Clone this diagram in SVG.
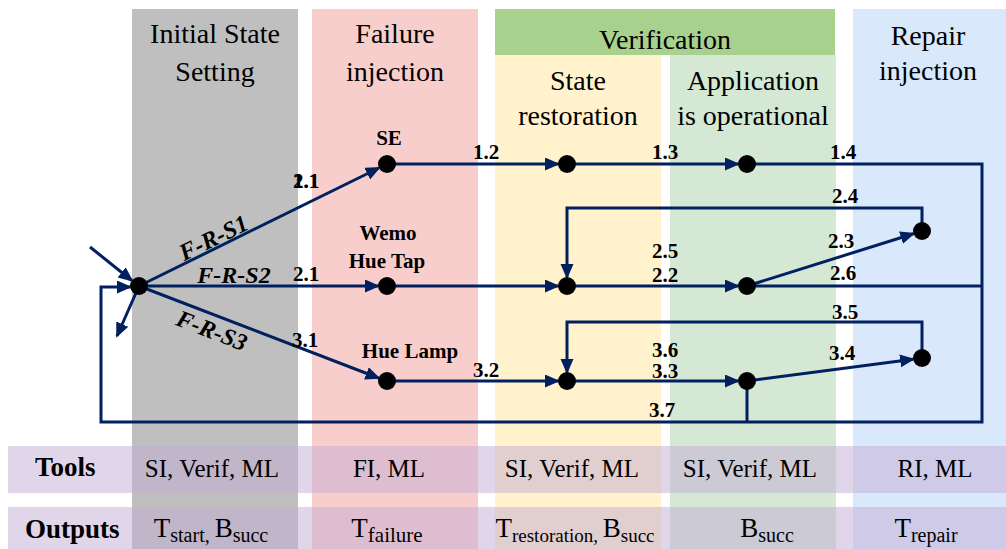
<svg xmlns="http://www.w3.org/2000/svg" width="1006" height="549" viewBox="0 0 1006 549">
<style>
.hd{font-family:"Liberation Serif","Times New Roman",serif;font-size:28px;fill:#000;text-anchor:middle}
.rw{font-family:"Liberation Serif","Times New Roman",serif;font-size:25px;fill:#000;text-anchor:middle}
.out{font-family:"Liberation Serif","Times New Roman",serif;font-size:27px;fill:#000;text-anchor:middle}
.rl{font-family:"Liberation Serif","Times New Roman",serif;font-size:27px;font-weight:bold;fill:#000}
.num{font-family:"Liberation Serif","Times New Roman",serif;font-size:21px;font-weight:bold;fill:#000}
.nl{font-family:"Liberation Serif","Times New Roman",serif;font-size:21px;font-weight:bold;fill:#000;text-anchor:middle}
.fr{font-family:"Liberation Serif","Times New Roman",serif;font-size:24px;font-weight:bold;font-style:italic;fill:#000;text-anchor:middle}
.ln{fill:none;stroke:#002060;stroke-width:3}
.nd{fill:#000}
.band{fill:rgb(195,172,212);fill-opacity:0.5}
</style>
<defs>
<marker id="ah" markerUnits="userSpaceOnUse" markerWidth="16" markerHeight="14" refX="13" refY="6.5" orient="auto">
<path d="M0,0 L15,6.5 L0,13 z" fill="#002060"/>
</marker>
</defs>
<g id="columns">
<rect x="132" y="9" width="166" height="540" fill="#BFBFBF"/>
<rect x="312" y="9" width="166" height="540" fill="#F8CECC"/>
<rect x="495" y="9" width="340" height="46" fill="#A9D18E"/>
<rect x="495" y="55" width="166" height="494" fill="#FFF2CC"/>
<rect x="670" y="55" width="166" height="494" fill="#D5E8D4"/>
<rect x="853" y="9" width="153" height="540" fill="#DAE8FC"/>
</g>
<g id="headers">
<text class="hd" x="215" y="43">Initial State</text>
<text class="hd" x="215" y="81">Setting</text>
<text class="hd" x="395" y="43">Failure</text>
<text class="hd" x="395" y="81">injection</text>
<text class="hd" x="665" y="49">Verification</text>
<text class="hd" x="578" y="90">State</text>
<text class="hd" x="578" y="125">restoration</text>
<text class="hd" x="753" y="90">Application</text>
<text class="hd" x="753" y="125">is operational</text>
<text class="hd" x="928" y="45">Repair</text>
<text class="hd" x="928" y="80">injection</text>
</g>
<g id="rows">
<rect class="band" x="8" y="446" width="998" height="47"/>
<rect class="band" x="8" y="507" width="998" height="42"/>
<text class="rl" x="35" y="476">Tools</text>
<text class="rw" x="212" y="477">SI, Verif, ML</text>
<text class="rw" x="389" y="477">FI, ML</text>
<text class="rw" x="572" y="477">SI, Verif, ML</text>
<text class="rw" x="750" y="477">SI, Verif, ML</text>
<text class="rw" x="935" y="477">RI, ML</text>
<text class="rl" x="25" y="538">Outputs</text>
<text class="out" x="211" y="537">T<tspan font-size="20" dy="5">start, </tspan><tspan dy="-5">B</tspan><tspan font-size="20" dy="5">succ</tspan></text>
<text class="out" x="387" y="537">T<tspan font-size="21" dy="5">failure</tspan></text>
<text class="out" x="575" y="537">T<tspan font-size="19" dy="5">restoration, </tspan><tspan dy="-5">B</tspan><tspan font-size="19" dy="5">succ</tspan></text>
<text class="out" x="767" y="537">B<tspan font-size="20" dy="5">succ</tspan></text>
<text class="out" x="926" y="537">T<tspan font-size="20" dy="5">repair</tspan></text>
</g>
<g id="connectors">
<line class="ln" x1="90" y1="247" x2="131.8" y2="280.5" marker-end="url(#ah)"/>
<line class="ln" x1="139" y1="286" x2="117" y2="336" marker-end="url(#ah)"/>
<line class="ln" x1="139" y1="286" x2="378.9" y2="168" marker-end="url(#ah)"/>
<line class="ln" x1="139" y1="286" x2="378" y2="286" marker-end="url(#ah)"/>
<line class="ln" x1="139" y1="286" x2="378.6" y2="378" marker-end="url(#ah)"/>
<line class="ln" x1="387" y1="164" x2="558" y2="164" marker-end="url(#ah)"/>
<line class="ln" x1="567" y1="164" x2="738" y2="164" marker-end="url(#ah)"/>
<line class="ln" x1="387" y1="286" x2="558" y2="286" marker-end="url(#ah)"/>
<line class="ln" x1="567" y1="286" x2="738" y2="286" marker-end="url(#ah)"/>
<line class="ln" x1="747" y1="286" x2="913.4" y2="233.7" marker-end="url(#ah)"/>
<path class="ln" d="M922,231 V208 H567 V277" marker-end="url(#ah)"/>
<line class="ln" x1="747" y1="286" x2="982" y2="286"/>
<line class="ln" x1="387" y1="381" x2="558" y2="381" marker-end="url(#ah)"/>
<line class="ln" x1="567" y1="381" x2="738" y2="381" marker-end="url(#ah)"/>
<line class="ln" x1="747" y1="381" x2="913.1" y2="359.2" marker-end="url(#ah)"/>
<path class="ln" d="M922,358 V322 H567 V372" marker-end="url(#ah)"/>
<line class="ln" x1="747" y1="381" x2="747" y2="422"/>
<path class="ln" d="M747,164 H982 V422 H101 V287 H130" stroke-width="3.5" marker-end="url(#ah)"/>
<text class="fr" transform="translate(217,245) rotate(-26.2)">F-R-S1</text>
<text class="fr" x="234" y="283">F-R-S2</text>
<text class="fr" transform="translate(209,338) rotate(21.2)">F-R-S3</text>
<text class="num" x="293" y="188">1.1</text>
<text class="num" x="293" y="188">2.1</text>
<text class="num" x="293" y="281">2.1</text>
<text class="num" x="292" y="347">3.1</text>
<text class="num" x="473" y="159">1.2</text>
<text class="num" x="652" y="159">1.3</text>
<text class="num" x="830" y="159">1.4</text>
<text class="num" x="832" y="203">2.4</text>
<text class="num" x="652" y="258">2.5</text>
<text class="num" x="828" y="248">2.3</text>
<text class="num" x="652" y="282">2.2</text>
<text class="num" x="830" y="280">2.6</text>
<text class="num" x="832" y="319">3.5</text>
<text class="num" x="652" y="357">3.6</text>
<text class="num" x="829" y="360">3.4</text>
<text class="num" x="473" y="377">3.2</text>
<text class="num" x="652" y="378">3.3</text>
<text class="num" x="649" y="417">3.7</text>
</g>
<g id="n-start"><circle class="nd" cx="139" cy="286" r="9"/></g>
<g id="n-se"><circle class="nd" cx="387" cy="164" r="9"/><text class="nl" x="389" y="145">SE</text></g>
<g id="n-wemo"><circle class="nd" cx="387" cy="286" r="9"/><text class="nl" x="388" y="240">Wemo</text><text class="nl" x="387" y="268">Hue Tap</text></g>
<g id="n-lamp"><circle class="nd" cx="387" cy="381" r="9"/><text class="nl" x="410" y="358">Hue Lamp</text></g>
<g id="n-r1"><circle class="nd" cx="567" cy="164" r="9"/></g>
<g id="n-a1"><circle class="nd" cx="747" cy="164" r="9"/></g>
<g id="n-r2"><circle class="nd" cx="567" cy="286" r="9"/></g>
<g id="n-a2"><circle class="nd" cx="747" cy="286" r="9"/></g>
<g id="n-p2"><circle class="nd" cx="922" cy="231" r="9"/></g>
<g id="n-r3"><circle class="nd" cx="567" cy="381" r="9"/></g>
<g id="n-a3"><circle class="nd" cx="747" cy="381" r="9"/></g>
<g id="n-p3"><circle class="nd" cx="922" cy="358" r="9"/></g>
</svg>
